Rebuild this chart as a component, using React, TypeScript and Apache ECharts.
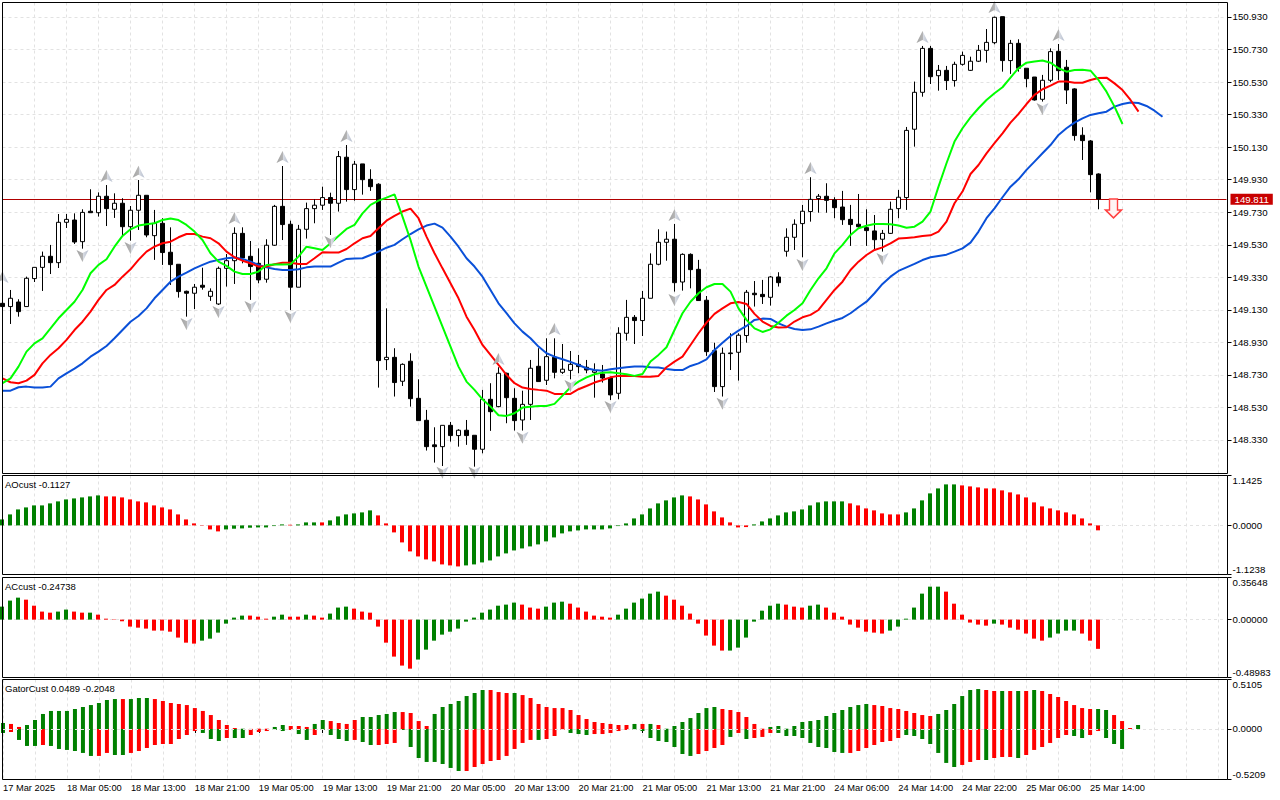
import React, { useEffect, useRef } from "react";
import * as echarts from "echarts";

const tickLabels = ["17 Mar 2025","18 Mar 05:00","18 Mar 13:00","18 Mar 21:00","19 Mar 05:00","19 Mar 13:00","19 Mar 21:00","20 Mar 05:00","20 Mar 13:00","20 Mar 21:00","21 Mar 05:00","21 Mar 13:00","21 Mar 21:00","24 Mar 06:00","24 Mar 14:00","24 Mar 22:00","25 Mar 06:00","25 Mar 14:00"];
const slotCount = 154;
const priceTicks = [148.33,148.53,148.73,148.93,149.13,149.33,149.53,149.73,149.93,150.13,150.33,150.53,150.73,150.93];
const lastPrice = 149.811;

// open, close, low, high
const candles = [
[149.170,149.150,149.133,149.187],[149.150,149.201,149.043,149.252],[149.178,149.119,149.088,149.195],[149.150,149.324,149.150,149.334],[149.322,149.391,149.301,149.391],[149.391,149.459,149.246,149.488],[149.459,149.420,149.350,149.529],[149.420,149.668,149.387,149.719],[149.668,149.686,149.633,149.719],[149.682,149.547,149.535,149.723],
[149.549,149.729,149.506,149.748],[149.736,149.727,149.727,149.871],[149.727,149.828,149.703,149.852],[149.828,149.752,149.645,149.897],[149.748,149.785,149.695,149.846],[149.785,149.641,149.588,149.816],[149.641,149.742,149.555,149.768],[149.742,149.834,149.621,149.928],[149.834,149.590,149.576,149.834],[149.586,149.662,149.437,149.744],
[149.662,149.482,149.406,149.693],[149.484,149.408,149.283,149.637],[149.410,149.242,149.205,149.410],[149.244,149.232,149.088,149.248],[149.232,149.269,149.135,149.289],[149.281,149.269,149.254,149.389],[149.213,149.244,149.185,149.262],[149.166,149.385,149.160,149.396],[149.385,149.432,149.273,149.473],[149.432,149.600,149.289,149.637],
[149.600,149.449,149.416,149.637],[149.459,149.396,149.191,149.553],[149.416,149.314,149.293,149.508],[149.318,149.527,149.297,149.564],[149.527,149.766,149.523,149.775],[149.766,149.654,149.559,150.014],[149.656,149.269,149.129,149.678],[149.269,149.625,149.269,149.652],[149.625,149.752,149.568,149.789],[149.752,149.773,149.662,149.809],
[149.773,149.820,149.744,149.887],[149.820,149.785,149.590,149.850],[149.785,150.072,149.734,150.106],[150.068,149.869,149.795,150.143],[149.869,150.025,149.801,150.045],[150.027,149.930,149.838,150.027],[149.932,149.887,149.861,149.994],[149.902,148.818,148.652,149.908],[148.824,148.838,148.760,149.139],[148.838,148.683,148.597,148.894],
[148.691,148.795,148.662,148.801],[148.814,148.584,148.535,148.863],[148.586,148.449,148.449,148.703],[148.451,148.289,148.265,148.515],[148.300,148.289,148.191,148.408],[148.289,148.420,148.170,148.420],[148.420,148.357,148.320,148.441],[148.357,148.390,148.289,148.396],[148.390,148.357,148.300,148.453],[148.359,148.273,148.166,148.359],
[148.273,148.580,148.248,148.638],[148.580,148.504,148.386,148.679],[148.535,148.740,148.531,148.777],[148.740,148.590,148.433,148.744],[148.586,148.449,148.388,148.648],[148.453,148.549,148.388,148.633],[148.549,148.771,148.453,148.822],[148.783,148.689,148.689,148.894],[148.697,148.842,148.668,148.955],[148.838,148.746,148.709,148.955],
[148.746,148.765,148.736,148.920],[148.758,148.795,148.703,148.877],[148.795,148.781,148.740,148.853],[148.777,148.760,148.740,148.822],[148.746,148.756,148.590,148.801],[148.736,148.711,148.683,148.791],[148.711,148.607,148.576,148.719],[148.617,148.986,148.580,149.023],[148.986,149.084,148.941,149.191],[149.084,149.064,148.920,149.098],
[149.064,149.201,148.969,149.246],[149.201,149.410,149.201,149.477],[149.410,149.545,149.404,149.625],[149.545,149.564,149.432,149.611],[149.564,149.297,149.242,149.658],[149.301,149.471,149.248,149.477],[149.471,149.377,149.262,149.477],[149.379,149.187,149.187,149.437],[149.189,148.873,148.847,149.215],[148.879,148.658,148.625,148.928],
[148.658,148.863,148.597,148.898],[148.865,148.861,148.760,148.986],[148.869,148.974,148.695,148.986],[148.972,149.238,148.928,149.252],[149.232,149.223,149.150,149.307],[149.225,149.211,149.166,149.314],[149.207,149.332,149.156,149.338],[149.332,149.297,149.273,149.361],[149.490,149.576,149.457,149.631],[149.576,149.656,149.498,149.686],
[149.660,149.736,149.453,149.775],[149.734,149.809,149.672,149.945],[149.814,149.828,149.727,149.842],[149.828,149.803,149.727,149.908],[149.805,149.758,149.693,149.822],[149.762,149.684,149.652,149.861],[149.686,149.654,149.523,149.775],[149.656,149.641,149.631,149.842],[149.635,149.617,149.523,149.748],[149.615,149.561,149.502,149.713],
[149.564,149.600,149.488,149.621],[149.600,149.748,149.596,149.795],[149.752,149.822,149.693,149.867],[149.820,150.233,149.744,150.254],[150.240,150.467,150.133,150.533],[150.467,150.737,150.440,150.752],[150.737,150.563,150.518,150.752],[150.569,150.602,150.477,150.635],[150.602,150.539,150.481,150.629],[150.539,150.639,150.502,150.655],
[150.639,150.694,150.631,150.717],[150.602,150.658,150.598,150.686],[150.658,150.725,150.653,150.758],[150.725,150.774,150.649,150.856],[150.772,150.928,150.762,150.932],[150.932,150.662,150.594,150.932],[150.662,150.768,150.580,150.789],[150.768,150.615,150.594,150.793],[150.615,150.551,150.498,150.615],[150.561,150.420,150.416,150.561],
[150.424,150.541,150.410,150.574],[150.541,150.717,150.529,150.737],[150.719,150.600,150.543,150.764],[150.621,150.481,150.395,150.666],[150.488,150.201,150.170,150.492],[150.203,150.170,150.051,150.252],[150.168,149.961,149.852,150.174],[149.965,149.811,149.748,149.969],
];

const lips = [148.679,148.709,148.781,148.873,148.924,148.955,149.016,149.078,149.129,149.180,149.252,149.355,149.406,149.441,149.518,149.584,149.625,149.648,149.656,149.662,149.682,149.691,149.682,149.652,149.611,149.559,149.478,149.426,149.400,149.365,149.350,149.350,149.365,149.406,149.408,149.408,149.410,149.457,149.518,149.508,149.498,149.539,149.584,149.627,149.652,149.723,149.775,149.801,149.820,149.840,149.703,149.559,149.396,149.273,149.150,149.027,148.904,148.781,148.689,148.638,148.580,148.535,148.482,148.478,148.494,148.529,148.535,148.539,148.539,148.552,148.603,148.654,148.689,148.715,148.734,148.744,148.746,148.740,148.734,148.724,148.736,148.812,148.853,148.900,149.006,149.109,149.180,149.232,149.269,149.289,149.289,149.242,149.139,149.068,149.016,148.994,149.010,149.051,149.094,149.129,149.170,149.252,149.324,149.385,149.477,149.529,149.590,149.631,149.647,149.658,149.658,149.656,149.648,149.635,149.641,149.672,149.734,149.887,150.031,150.164,150.246,150.313,150.369,150.420,150.461,150.498,150.557,150.615,150.649,150.656,150.662,150.649,150.615,150.594,150.604,150.606,150.600,150.543,150.471,150.379,150.272];

const teeth = [148.709,148.685,148.679,148.695,148.730,148.801,148.853,148.894,148.945,149.006,149.057,149.119,149.191,149.252,149.283,149.334,149.379,149.437,149.488,149.518,149.539,149.549,149.576,149.596,149.596,149.580,149.570,149.539,149.488,149.453,149.432,149.416,149.396,149.396,149.410,149.420,149.420,149.412,149.412,149.447,149.484,149.482,149.482,149.504,149.539,149.570,149.584,149.631,149.678,149.707,149.734,149.752,149.693,149.580,149.478,149.385,149.293,149.201,149.088,149.006,148.914,148.853,148.791,148.730,148.679,148.652,148.644,148.638,148.633,148.613,148.613,148.613,148.642,148.662,148.683,148.699,148.715,148.724,148.724,148.724,148.719,148.719,148.724,148.777,148.812,148.842,148.914,148.986,149.051,149.105,149.139,149.170,149.178,149.166,149.105,149.058,149.031,149.021,149.023,149.058,149.084,149.099,149.129,149.191,149.252,149.303,149.375,149.426,149.467,149.498,149.514,149.539,149.568,149.572,149.576,149.584,149.588,149.611,149.672,149.785,149.857,149.965,150.020,150.092,150.154,150.215,150.281,150.334,150.395,150.451,150.486,150.508,150.533,150.533,150.526,150.526,150.543,150.555,150.557,150.522,150.481,150.420,150.348];

const jaw = [148.633,148.633,148.654,148.658,148.652,148.652,148.658,148.709,148.740,148.769,148.801,148.842,148.873,148.908,148.955,149.006,149.057,149.092,149.139,149.201,149.252,149.303,149.334,149.359,149.385,149.406,149.426,149.437,149.447,149.451,149.443,149.426,149.406,149.391,149.381,149.375,149.375,149.379,149.391,149.396,149.396,149.396,149.420,149.443,149.445,149.447,149.467,149.488,149.512,149.529,149.564,149.596,149.625,149.648,149.660,149.635,149.580,149.518,149.447,149.396,149.334,149.252,149.170,149.109,149.047,148.996,148.955,148.904,148.863,148.842,148.826,148.810,148.791,148.771,148.760,148.756,148.765,148.771,148.777,148.781,148.781,148.777,148.775,148.767,148.760,148.760,148.785,148.801,148.826,148.883,148.928,148.969,149.002,149.031,149.068,149.076,149.074,149.047,149.027,149.012,149.006,149.010,149.027,149.047,149.064,149.080,149.109,149.146,149.180,149.232,149.289,149.334,149.369,149.391,149.412,149.436,149.453,149.461,149.469,149.488,149.508,149.543,149.611,149.693,149.754,149.822,149.887,149.932,149.990,150.041,150.092,150.143,150.205,150.246,150.281,150.307,150.328,150.338,150.348,150.379,150.395,150.404,150.401,150.383,150.354,150.317];

const fractalUp = [[0,149.332],[13,149.953],[17,149.979],[29,149.695],[35,150.070],[43,150.199],[62,148.828],[69,149.012],[84,149.713],[101,150.002],[115,150.807],[124,150.991],[132,150.819]];
const fractalDown = [[10,149.461],[16,149.510],[23,149.043],[27,149.117],[31,149.148],[36,149.086],[41,149.547],[55,148.128],[59,148.128],[65,148.343],[71,148.662],[76,148.533],[84,149.191],[90,148.552],[100,149.406],[110,149.443],[130,150.365]];
const sellSignal = [[139,149.753]];

const aoValues = [.137,.252,.366,.412,.458,.458,.504,.550,.595,.618,.641,.664,.687,.664,.664,.641,.595,.550,.527,.458,.412,.366,.252,.137,.046,.008,-.092,-.137,-.092,-.076,-.069,-.053,-.046,-.046,-.015,.023,.015,.023,.069,.069,.069,.115,.206,.252,.275,.298,.344,.229,.046,-.160,-.389,-.595,-.710,-.779,-.824,-.893,-.916,-.939,-.916,-.893,-.847,-.802,-.710,-.641,-.573,-.527,-.481,-.435,-.366,-.275,-.183,-.137,-.115,-.092,-.092,-.092,-.069,-.015,.046,.160,.252,.389,.504,.573,.641,.687,.664,.595,.481,.321,.183,.069,-.046,-.038,.023,.092,.160,.229,.298,.321,.366,.458,.527,.550,.550,.550,.504,.458,.389,.344,.275,.252,.252,.298,.389,.573,.733,.847,.939,.939,.916,.893,.870,.847,.847,.802,.756,.710,.641,.527,.435,.389,.344,.298,.252,.160,.046,-.1127];
const aoRuns = [13,15,8,1,3,1,6,11,28,8,12,7,7,18];

const acValues = [.110,.161,.186,.169,.118,.068,.059,.068,.085,.068,.059,.059,.042,.008,.003,-.014,-.059,-.068,-.076,-.093,-.093,-.102,-.152,-.195,-.203,-.178,-.161,-.110,-.034,.017,.034,.034,.025,.008,.025,.042,.025,.025,.042,.034,.017,.051,.102,.110,.093,.068,.059,-.059,-.195,-.313,-.389,-.415,-.338,-.254,-.178,-.127,-.102,-.076,-.017,.017,.059,.085,.118,.127,.144,.127,.102,.093,.110,.144,.152,.135,.102,.068,.034,.025,.017,.042,.093,.144,.178,.220,.237,.203,.169,.118,.051,-.034,-.135,-.220,-.262,-.262,-.237,-.152,-.017,.076,.118,.135,.127,.110,.102,.118,.127,.102,.059,.025,-.042,-.068,-.102,-.110,-.118,-.093,-.059,.008,.102,.220,.279,.279,.237,.135,.042,-.025,-.042,-.051,-.034,-.042,-.068,-.085,-.118,-.161,-.178,-.152,-.118,-.093,-.093,-.118,-.178,-.24738];
const acRuns = [3,4,2,2,1,13,6,3,2,2,1,2,3,8,13,3,3,6,6,8,7,3,2,8,7,6,1,6,4,3];

const gatorUp = [.062,.052,.021,.041,.093,.155,.186,.186,.186,.206,.227,.247,.268,.299,.309,.309,.309,.320,.320,.309,.289,.268,.258,.247,.216,.186,.144,.093,.041,.010,.003,.001,.003,.003,.021,.041,.031,.031,.021,.052,.093,.082,.062,.052,.093,.124,.124,.144,.155,.175,.175,.165,.082,.031,.155,.227,.258,.289,.340,.371,.402,.402,.381,.371,.371,.350,.320,.258,.227,.216,.216,.196,.144,.103,.072,.062,.052,.041,.041,.052,.052,.052,.041,.003,.031,.072,.113,.165,.216,.227,.206,.196,.175,.124,.052,.003,.021,.031,.003,.031,.072,.082,.093,.134,.165,.196,.227,.247,.258,.247,.237,.216,.206,.186,.165,.144,.134,.155,.196,.258,.340,.402,.412,.402,.392,.392,.392,.392,.392,.402,.392,.361,.330,.289,.247,.216,.206,.206,.196,.144,.082,.010,.041];
const gatorUpRuns = [1,2,12,1,3,11,1,3,2,3,2,4,5,4,7,3,1,14,1,1,1,1,7,6,13,8,6,2,1,1,1,1,1,7,2,3,1];
const gatorDown = [-.041,-.031,-.113,-.175,-.175,-.165,-.175,-.206,-.216,-.227,-.247,-.278,-.278,-.247,-.268,-.268,-.247,-.227,-.196,-.165,-.155,-.155,-.103,-.062,-.021,-.041,-.103,-.124,-.093,-.093,-.093,-.062,-.031,-.021,-.010,-.021,-.010,-.052,-.113,-.062,-.010,-.062,-.103,-.124,-.113,-.134,-.165,-.165,-.155,-.144,-.010,-.186,-.299,-.340,-.340,-.361,-.402,-.433,-.433,-.392,-.361,-.330,-.320,-.278,-.206,-.144,-.113,-.113,-.103,-.072,-.010,-.041,-.052,-.062,-.052,-.052,-.041,-.021,-.010,-.007,-.021,-.093,-.124,-.134,-.186,-.258,-.278,-.258,-.227,-.196,-.165,-.082,-.041,-.103,-.093,-.082,-.041,-.041,-.072,-.072,-.093,-.144,-.186,-.196,-.237,-.247,-.247,-.227,-.196,-.165,-.134,-.124,-.093,-.062,-.072,-.103,-.155,-.247,-.350,-.392,-.371,-.340,-.320,-.320,-.299,-.289,-.289,-.299,-.268,-.216,-.186,-.144,-.093,-.062,-.072,-.093,-.062,-.021,-.093,-.155,-.206];
const gatorDownRuns = [1,1,3,1,6,2,2,9,3,1,2,3,2,1,2,1,4,1,2,3,8,9,1,3,3,5,8,4,1,1,1,3,9,7,7,3,1,3,1,6,2,2,3];

const FONT = "'Liberation Sans', Arial, sans-serif";
const GREEN = "#008000";
const RED = "#ff0000";
const GRID = "#e2e2e2";
const slots = Array.from({ length: slotCount }, (_, k) => (k % 8 === 0 && tickLabels[k / 8]) || "");

function expandRuns(runs: number[]): boolean[] {
  const flags: boolean[] = [];
  runs.forEach((n, i) => { for (let j = 0; j < n; j++) flags.push(i % 2 === 0); });
  return flags;
}

const panels = [
  { top: 2.5, height: 471, left: 2.5, offset: 1, min: 148.124, max: 151.019, ticks: priceTicks, digits: 3, title: "" },
  { top: 475.5, height: 99, left: 2, offset: 1.5, min: -1.1238, max: 1.1425, ticks: [-1.1238, 0, 1.1425], digits: 4, title: "AOcust -0.1127" },
  { top: 577.5, height: 100, left: 2, offset: 1.5, min: -0.48983, max: 0.35648, ticks: [-0.48983, 0, 0.35648], digits: 5, title: "ACcust -0.24738" },
  { top: 679.5, height: 100, left: 2, offset: 1.5, min: -0.5209, max: 0.5105, ticks: [-0.5209, 0, 0.5105], digits: 4, title: "GatorCust 0.0489 -0.2048" },
];

function coloured(values: number[], runs: number[]) {
  const flags = expandRuns(runs);
  return values.map((v, i) => ({ value: v, itemStyle: { color: flags[i] ? GREEN : RED } }));
}

function buildOption(): any {
  const arrowFill = new echarts.graphic.LinearGradient(0, 0, 1, 0, [
    { offset: 0, color: "#a2a2a2" },
    { offset: 0.5, color: "#b4b4b4" },
    { offset: 0.52, color: "#dcdfe5" },
    { offset: 1, color: "#b4bccd" },
  ]);
  const bar = (xi: number, data: any[], extra: any = {}) => ({
    type: "bar", xAxisIndex: xi, yAxisIndex: xi, data, barWidth: 4, barGap: "-100%", ...extra,
  });
  const line = (data: number[], color: string) => ({
    type: "line", xAxisIndex: 0, yAxisIndex: 0, data, showSymbol: false, symbol: "none", z: 4,
    lineStyle: { color, width: 2 }, itemStyle: { color },
  });
  const fractal = (data: number[][], path: string) => ({
    type: "scatter", xAxisIndex: 0, yAxisIndex: 0, data, symbol: path, symbolSize: [12, 12], z: 5,
    itemStyle: { color: arrowFill, opacity: 1 },
  });
  return {
    animation: false,
    backgroundColor: "#ffffff",
    textStyle: { fontFamily: FONT },
    title: panels.filter((p) => p.title).map((p) => ({
      text: p.title, left: 5, top: p.top + 4, padding: 0,
      textStyle: { fontFamily: FONT, fontSize: 9.5, fontWeight: "normal", color: "#000" },
    })),
    grid: panels.map((p) => ({ left: p.left, width: 1224, top: p.top, height: p.height, containLabel: false })),
    xAxis: panels.map((_, i) => ({
      type: "category", gridIndex: i, data: slots, boundaryGap: false,
      axisLine: { show: false },
      axisTick: { show: i === 3, length: 4, interval: (k: number) => k % 8 === 0 && k <= 136, lineStyle: { color: "#000" } },
      axisLabel: {
        show: i === 3, align: "left", margin: 4, fontFamily: FONT, fontSize: 9.3, color: "#000",
        interval: (_k: number, v: string) => v !== "", hideOverlap: false,
      },
      splitLine: { show: true, interval: (k: number) => k % 4 === 0, lineStyle: { color: GRID, type: [3, 3] } },
    })),
    yAxis: panels.map((p, i) => ({
      type: "value", gridIndex: i, position: "right", offset: p.offset, min: p.min, max: p.max, scale: true,
      z: i === 3 ? 3 : 0,
      axisLine: { show: false },
      axisTick: { show: true, length: 4, customValues: p.ticks, lineStyle: { color: "#000" } },
      axisLabel: {
        show: true, customValues: p.ticks, margin: 5, fontFamily: FONT, fontSize: 9.7, color: "#000",
        formatter: (v: number) => v.toFixed(p.digits),
        verticalAlignMinLabel: i === 0 ? undefined : "bottom",
        verticalAlignMaxLabel: i === 0 ? undefined : "top",
      },
      splitLine: { show: true, lineStyle: { color: GRID, type: [3, 3] } },
    })),
    series: [
      {
        type: "candlestick", xAxisIndex: 0, yAxisIndex: 0, data: candles, barWidth: 5, z: 3,
        itemStyle: { color: "#ffffff", color0: "#000000", borderColor: "#000000", borderColor0: "#000000", borderWidth: 1 },
        markLine: {
          silent: true, symbol: "none", z: 3,
          lineStyle: { color: "#b00000", width: 1, type: "solid" },
          label: {
            show: true, position: "end", distance: 4, formatter: lastPrice.toFixed(3), color: "#fff",
            backgroundColor: "#c80000", padding: [1, 4, 0, 4], fontFamily: FONT, fontSize: 9.7,
          },
          data: [{ yAxis: lastPrice }],
        },
      },
      line(jaw, "#0a50d8"),
      line(teeth, "#ff0000"),
      line(lips, "#00ff00"),
      fractal(fractalUp, "path://M6,0 L12,12 L6,9 L0,12 Z"),
      fractal(fractalDown, "path://M0,0 L6,3 L12,0 L6,12 Z"),
      {
        type: "scatter", xAxisIndex: 0, yAxisIndex: 0, data: sellSignal, z: 6,
        symbol: "path://M4,0 H12 V11 H16 L8,19 L0,11 H4 Z", symbolSize: [16, 19], symbolOffset: [-1, 0],
        itemStyle: { color: "#fff4f4", borderColor: "#ff4040", borderWidth: 1.5, opacity: 1 },
      },
      bar(1, coloured(aoValues, aoRuns)),
      bar(2, coloured(acValues, acRuns)),
      bar(3, coloured(gatorUp, gatorUpRuns)),
      bar(3, coloured(gatorDown, gatorDownRuns)),
    ],
    graphic: panels.map((p) => ({
      type: "rect", z: 100, silent: true,
      shape: { x: 2.5, y: p.top, width: 1225, height: p.height },
      style: { fill: "none", stroke: "#000", lineWidth: 1 },
    })),
  };
}

export default function App() {
  const ref = useRef<HTMLDivElement>(null);
  useEffect(() => {
    if (!ref.current) return;
    const chart = echarts.init(ref.current, undefined, { renderer: "svg" });
    chart.setOption(buildOption());
    return () => chart.dispose();
  }, []);
  return <div ref={ref} style={{ position: "absolute", left: 0, top: 0, width: 1280, height: 800 }} />;
}
